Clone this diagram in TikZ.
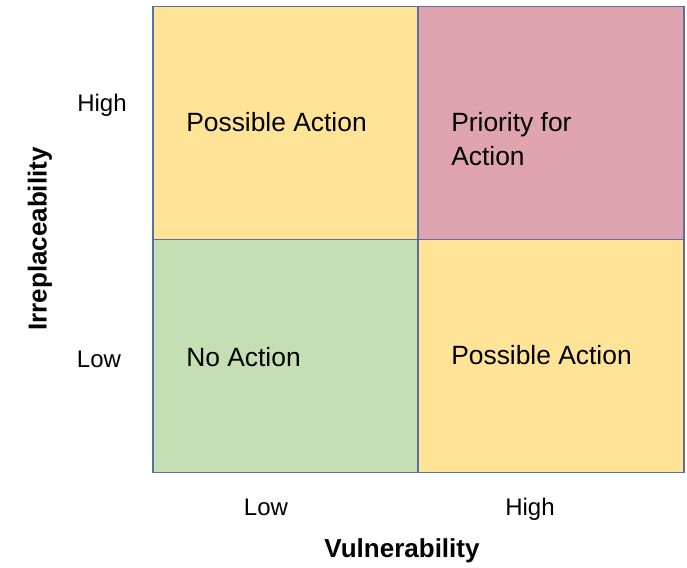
\documentclass[tikz,border=0pt]{standalone}
\usepackage{fontspec}
\setmainfont{Liberation Sans}
\definecolor{cellYellow}{HTML}{FFE497}
\definecolor{cellPink}{HTML}{E0A3B0}
\definecolor{cellGreen}{HTML}{C5DFB4}
\definecolor{cellLine}{HTML}{5A70A0}

\begin{document}
\begin{tikzpicture}[x=0.75pt,y=-0.75pt,
  cell/.style={draw=cellLine,line width=1.3pt,minimum width=199.1pt,minimum height=174.75pt,inner sep=0pt},
  label/.style={anchor=west,inner sep=0pt,align=left,font=\fontsize{19.8}{25.5}\selectfont},
  level/.style={anchor=base,inner sep=0pt,font=\fontsize{18}{22}\selectfont},
  axis/.style={inner sep=0pt,font=\bfseries\fontsize{19.5}{24}\selectfont}]
\useasboundingbox (0,0) rectangle (687,568);
\node[cell,fill=cellYellow] at (285.5,123) (TL) {};
\node[cell,fill=cellPink] at (551,123) (TR) {};
\node[cell,fill=cellGreen] at (285.5,356) (BL) {};
\node[cell,fill=cellYellow] at (551,356) (BR) {};
\node[label] at (186,122) (possA) {Possible Action};
\node[label] at (451,139) (prio) {Priority for\\Action};
\node[label] at (186,357) (none) {No Action};
\node[label] at (451,355) (possB) {Possible Action};
\node[level] at (102,111) (irrHigh) {High};
\node[level] at (99,367) (irrLow) {Low};
\node[level] at (266,515) (vulLow) {Low};
\node[level] at (530,515) (vulHigh) {High};
\node[axis,rotate=90] at (40,239) (irr) {Irreplaceability};
\node[axis] at (402,551) (vul) {Vulnerability};
\end{tikzpicture}
\end{document}
